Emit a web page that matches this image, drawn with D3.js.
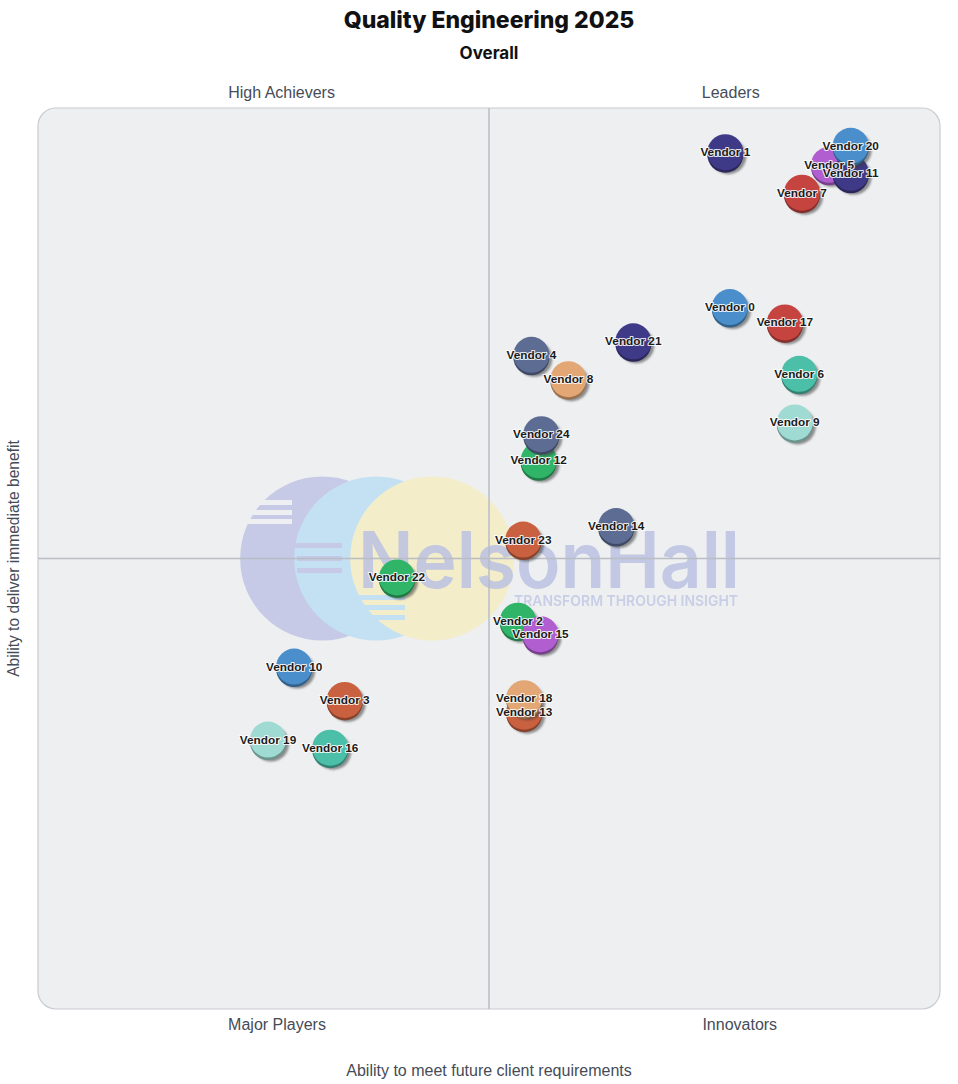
<!DOCTYPE html>
<html>
<head>
<meta charset="utf-8">
<script src="https://cdn.jsdelivr.net/npm/d3@7/dist/d3.min.js"></script>
<style>
  html, body { margin: 0; padding: 0; background: #ffffff; }
  svg { display: block; }
</style>
</head>
<body>
<svg id="chart" width="958" height="1084"></svg>
<script>
// ---------------- DATA ----------------
const vendors = ["Vendor 0","Vendor 1","Vendor 2","Vendor 3","Vendor 4","Vendor 5","Vendor 6","Vendor 7","Vendor 8","Vendor 9",
  "Vendor 10","Vendor 11","Vendor 12","Vendor 13","Vendor 14","Vendor 15","Vendor 16","Vendor 17","Vendor 18","Vendor 19",
  "Vendor 20","Vendor 21","Vendor 22","Vendor 23","Vendor 24"];
// Ability to meet future client requirements (x)
const futureValues = [76.7, 76.2, 53.2, 34.0, 54.7, 87.7, 84.4, 84.7, 58.8, 83.9,
  28.4, 90.1, 55.5, 53.9, 64.1, 55.7, 32.4, 82.8, 53.9, 25.5,
  90.1, 66.0, 39.8, 53.8, 55.8];
// Ability to deliver immediate benefit (y)
const immediateValues = [77.9, 95.1, 43.1, 34.3, 72.6, 93.7, 70.5, 90.6, 69.9, 65.1,
  38.0, 92.8, 60.9, 33.0, 53.6, 41.6, 29.0, 76.2, 34.5, 29.9,
  95.8, 74.1, 47.9, 52.1, 63.8];
const palette = ["#4a8fcb", "#3f3a87", "#2fb468", "#c9603f", "#5d6c93", "#b05ed0", "#4cbfa8", "#c6443f", "#e2a774", "#9fdbd2"];
const quadrantLabels = ["High Achievers", "Leaders", "Major Players", "Innovators"];
const titleText = "Quality Engineering 2025";
const subtitleText = "Overall";
const xTitle = "Ability to meet future client requirements";
const yTitle = "Ability to deliver immediate benefit";

// ---------------- LAYOUT ----------------
const W = 958, H = 1084;
const plot = { left: 38, right: 940, top: 108, bottom: 1009 };
const svg = d3.select("#chart");
const x = d3.scaleLinear().domain([0, 100]).range([plot.left, plot.right]);
const y = d3.scaleLinear().domain([0, 100]).range([plot.bottom, plot.top]);
const color = d3.scaleOrdinal().domain(d3.range(10)).range(palette);

const defs = svg.append("defs");
const shadow = defs.append("filter").attr("id", "blur").attr("x", "-50%").attr("y", "-50%").attr("width", "200%").attr("height", "200%");
shadow.append("feGaussianBlur").attr("stdDeviation", 1.2);
const clip = defs.append("clipPath").attr("id", "plotClip");
clip.append("rect").attr("x", plot.left).attr("y", plot.top)
  .attr("width", plot.right - plot.left).attr("height", plot.bottom - plot.top).attr("rx", 18);

const cx50 = x(50);
// Title
svg.append("text").attr("x", cx50).attr("y", 28).attr("text-anchor", "middle")
  .attr("font-family", "Inter, 'Noto Sans', sans-serif").attr("font-weight", 800)
  .attr("font-size", 23).attr("fill", "#111").text(titleText);
svg.append("text").attr("x", cx50).attr("y", 59).attr("text-anchor", "middle")
  .attr("font-family", "Inter, 'Noto Sans', sans-serif").attr("font-weight", 700)
  .attr("font-size", 17).attr("fill", "#111").text(subtitleText);

// Plot background
svg.append("rect").attr("x", plot.left).attr("y", plot.top)
  .attr("width", plot.right - plot.left).attr("height", plot.bottom - plot.top)
  .attr("rx", 18).attr("fill", "#eeeff1").attr("stroke", "#c9ccd1").attr("stroke-width", 1.2);

// Watermark logo
const logo = svg.append("g").attr("clip-path", "url(#plotClip)");
const cy0 = y(50);
const circles = [
  { cx: x(31.5), fill: "#c6cae6", stripeFill: "#eeeff1", stripes: [[250, 292, -56], [244, 292, -46], [248, 292, -37]] },
  { cx: x(37.5), fill: "#c4e1f3", stripeFill: "#c6cae6", stripes: [[295, 342, -13], [297, 342, 0], [297, 342, 12]] },
  { cx: x(43.7), fill: "#f3edca", stripeFill: "#c4e1f3", stripes: [[357, 405, 39], [362, 405, 49], [366, 405, 59]] }
];
circles.forEach(c => {
  logo.append("circle").attr("cx", c.cx).attr("cy", cy0).attr("r", 82).attr("fill", c.fill);
  c.stripes.forEach(s => {
    logo.append("rect").attr("x", s[0]).attr("y", cy0 + s[2] - 2.5).attr("width", s[1] - s[0]).attr("height", 5)
      .attr("fill", c.stripeFill);
  });
});
logo.append("text").attr("x", 358).attr("y", 588)
  .attr("font-family", "Inter, 'Noto Sans', sans-serif").attr("font-weight", 600).attr("font-size", 78)
  .attr("textLength", 382).attr("lengthAdjust", "spacingAndGlyphs")
  .attr("fill", "#bcc2e2").attr("opacity", 0.85).text("NelsonHall");
logo.append("text").attr("x", 514).attr("y", 606)
  .attr("font-family", "Inter, 'Noto Sans', sans-serif").attr("font-weight", 600).attr("font-size", 15)
  .attr("textLength", 224).attr("lengthAdjust", "spacingAndGlyphs")
  .attr("fill", "#c6cbe6").attr("opacity", 0.9).text("TRANSFORM THROUGH INSIGHT");

// Quadrant dividers
svg.append("line").attr("x1", x(50)).attr("x2", x(50)).attr("y1", plot.top).attr("y2", plot.bottom)
  .attr("stroke", "#b9bdc4").attr("stroke-width", 1.5);
svg.append("line").attr("x1", plot.left).attr("x2", plot.right).attr("y1", y(50)).attr("y2", y(50))
  .attr("stroke", "#b9bdc4").attr("stroke-width", 1.5);

// Quadrant labels
const qFont = "'Liberation Sans', Arial, Helvetica, sans-serif";
const qPos = [[x(27), plot.top - 10], [x(76.8), plot.top - 10], [x(26.5), plot.bottom + 21], [x(77.8), plot.bottom + 21]];
quadrantLabels.forEach((t, i) => {
  svg.append("text").attr("x", qPos[i][0]).attr("y", qPos[i][1]).attr("text-anchor", "middle")
    .attr("font-family", qFont).attr("font-size", 16).attr("fill", "#464c57").text(t);
});

// Axis titles
svg.append("text").attr("x", x(50)).attr("y", 1076).attr("text-anchor", "middle")
  .attr("font-family", qFont).attr("font-size", 16).attr("fill", "#464c57").text(xTitle);
svg.append("text").attr("transform", `translate(19,${y(50)}) rotate(-90)`).attr("text-anchor", "middle")
  .attr("font-family", qFont).attr("font-size", 15.6).attr("fill", "#464c57").text(yTitle);

// Bubbles
const data = vendors.map((name, i) => ({ name, i, fx: futureValues[i], iy: immediateValues[i], c: color(i % 10) }));
const r = 18;
const bubbles = svg.append("g");
data.forEach(d => {
  const g = bubbles.append("g").attr("transform", `translate(${x(d.fx)},${y(d.iy)})`);
  g.append("circle").attr("cx", 3).attr("cy", 4).attr("r", r).attr("fill", "#3a3a3a").attr("opacity", 0.55).attr("filter", "url(#blur)");
  g.append("circle").attr("cx", 0).attr("cy", 2.5).attr("r", r).attr("fill", d3.color(d.c).darker(1.1));
  g.append("circle").attr("cx", 0).attr("cy", 0).attr("r", r).attr("fill", d.c);
});

// Labels
const labels = svg.append("g");
data.forEach(d => {
  labels.append("text").attr("x", x(d.fx)).attr("y", y(d.iy) + 4).attr("text-anchor", "middle")
    .attr("font-family", qFont).attr("font-weight", 700).attr("font-size", 11.8)
    .attr("fill", "#1b1b1b").attr("stroke", "#ffffff").attr("stroke-width", 2.2)
    .attr("stroke-opacity", 0.85).attr("paint-order", "stroke").attr("stroke-linejoin", "round")
    .text(d.name);
});
</script>
</body>
</html>
